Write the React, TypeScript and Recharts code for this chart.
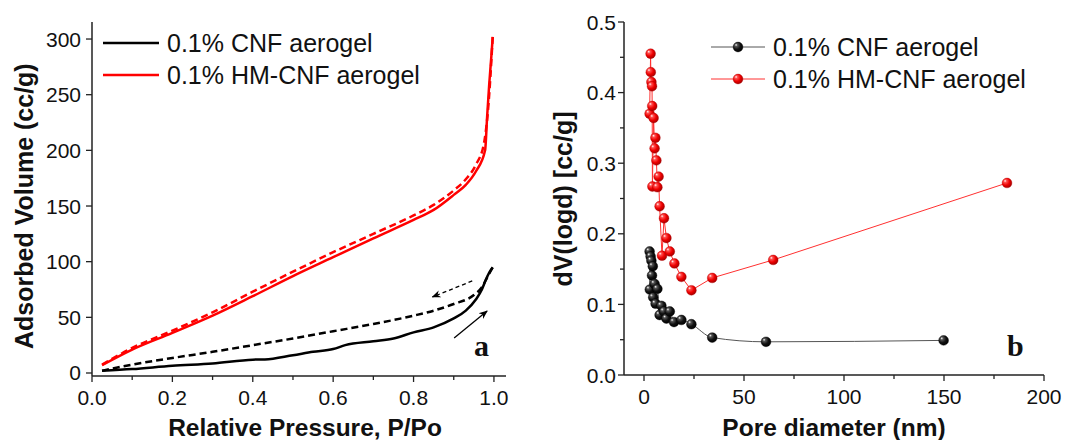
import React from "react";
import {
  LineChart,
  Line,
  XAxis,
  YAxis,
  Legend,
  ReferenceLine,
} from "recharts";

// panel a: N2 isotherms [P/Po, cc/g]
const cnfAdsorption = [
  [0.025, 2], [0.1, 3.5], [0.2, 6.5], [0.3, 8.5], [0.4, 12], [0.43, 12.2],
  [0.5, 16], [0.55, 19], [0.6, 21.5], [0.63, 25], [0.7, 28.5], [0.75, 31],
  [0.8, 36.5], [0.85, 41], [0.9, 49], [0.93, 56], [0.955, 66], [0.97, 75],
  [0.98, 84], [0.988, 90], [0.997, 95],
];
const cnfDesorption = [
  [0.025, 2], [0.1, 7.5], [0.2, 13.5], [0.3, 19], [0.4, 25], [0.5, 31],
  [0.6, 37.5], [0.7, 44], [0.8, 51.5], [0.85, 56], [0.9, 62], [0.95, 70],
  [0.97, 77], [0.985, 87], [0.997, 95],
];
const hmAdsorption = [
  [0.025, 7], [0.1, 21], [0.2, 36], [0.3, 51.5], [0.4, 69], [0.5, 87],
  [0.6, 104], [0.7, 121], [0.8, 137.5], [0.85, 146.5], [0.9, 160], [0.93, 169],
  [0.955, 181], [0.978, 200], [0.983, 230], [0.988, 258], [0.993, 282], [0.997, 302],
];
const hmDesorption = [
  [0.025, 7.5], [0.1, 22.5], [0.2, 38], [0.3, 54.5], [0.4, 73], [0.5, 91],
  [0.6, 108.5], [0.7, 125], [0.8, 141.5], [0.85, 151], [0.9, 164], [0.93, 174],
  [0.955, 187], [0.975, 206], [0.985, 235], [0.997, 302],
];

// panel b: pore size distribution [nm, cc/g]
const cnfPores = [
  [2.8, 0.175], [2.9, 0.121], [3.3, 0.168], [3.7, 0.162], [4.0, 0.141],
  [4.4, 0.154], [4.6, 0.11], [5.3, 0.129], [5.8, 0.101], [6.7, 0.122],
  [7.8, 0.085], [8.7, 0.098], [10.0, 0.09], [11.2, 0.08], [12.9, 0.09],
  [15.0, 0.075], [18.7, 0.078], [23.7, 0.072], [34.1, 0.053], [61.0, 0.047],
  [149.8, 0.049],
];
const hmPores = [
  [2.8, 0.37], [3.3, 0.455], [3.4, 0.429], [3.7, 0.415], [4.0, 0.409],
  [4.1, 0.381], [4.2, 0.267], [4.8, 0.364], [5.3, 0.321], [5.7, 0.336],
  [6.2, 0.304], [6.7, 0.266], [7.3, 0.281], [7.8, 0.239], [9.0, 0.169],
  [10.0, 0.222], [11.2, 0.194], [12.9, 0.175], [15.2, 0.158], [18.7, 0.139],
  [23.7, 0.12], [34.1, 0.1375], [64.6, 0.163], [181.5, 0.272],
];

const pressureTicks = [0, 0.1, 0.2, 0.3, 0.4, 0.5, 0.6, 0.7, 0.8, 0.9, 1.0];
const volumeTicks = [0, 50, 100, 150, 200, 250, 300];
const diameterTicks = [0, 25, 50, 75, 100, 125, 150, 175, 200];
const dvTicks = [0, 0.05, 0.1, 0.15, 0.2, 0.25, 0.3, 0.35, 0.4, 0.45, 0.5];

const toRows = (pts: number[][]) => pts.map(([x, y]) => ({ x, y }));

const FONT = "'Liberation Sans', Arial, sans-serif";
const AXIS = "#222";
const TICK_FONT = 21;
const LEGEND_FONT = 25;

const bottomTick = (isMajor: (v: number) => boolean, fmt: (v: number) => string) =>
  (p: any) => {
    const v = p.payload.value;
    const major = isMajor(v);
    return (
      <g>
        <line x1={p.x} x2={p.x} y1={p.y} y2={p.y + (major ? 6 : 4)} stroke={AXIS} strokeWidth={1.3} />
        {major && (
          <text x={p.x} y={p.y + 29} textAnchor="middle" fontSize={TICK_FONT} fontFamily={FONT} fill="#111">
            {fmt(v)}
          </text>
        )}
      </g>
    );
  };

const leftTick = (isMajor: (v: number) => boolean, fmt: (v: number) => string, gap: number) =>
  (p: any) => {
    const v = p.payload.value;
    const major = isMajor(v);
    return (
      <g>
        <line x1={p.x} x2={p.x - (major ? 6 : 4)} y1={p.y} y2={p.y} stroke={AXIS} strokeWidth={1.3} />
        {major && (
          <text x={p.x - gap} y={p.y + 7.5} textAnchor="end" fontSize={TICK_FONT} fontFamily={FONT} fill="#111">
            {fmt(v)}
          </text>
        )}
      </g>
    );
  };

const near = (v: number, step: number) => Math.abs(v / step - Math.round(v / step)) < 1e-6;

const Ball = ({ cx, cy, color }: { cx: number; cy: number; color: "red" | "black" }) => (
  <circle cx={cx} cy={cy} r={4.9} fill={`url(#ball-${color})`} stroke={color === "red" ? "#b00000" : "#000"} strokeWidth={0.4} />
);

const LegendA = () => (
  <svg width={360} height={70} style={{ overflow: "visible" }}>
    <line x1={3} x2={59} y1={21} y2={21} stroke="#000" strokeWidth={2.5} />
    <text x={67} y={30} fontSize={LEGEND_FONT} fontFamily={FONT} fill="#111">0.1% CNF aerogel</text>
    <line x1={3} x2={59} y1={53} y2={53} stroke="#ff0000" strokeWidth={2.5} />
    <text x={67} y={62} fontSize={LEGEND_FONT} fontFamily={FONT} fill="#111">0.1% HM-CNF aerogel</text>
  </svg>
);

const LegendB = () => (
  <svg width={360} height={70} style={{ overflow: "visible" }}>
    <line x1={0} x2={54} y1={25} y2={25} stroke="#555" strokeWidth={1} />
    <Ball cx={27} cy={25} color="black" />
    <text x={62} y={34} fontSize={LEGEND_FONT} fontFamily={FONT} fill="#111">0.1% CNF aerogel</text>
    <line x1={0} x2={54} y1={57} y2={57} stroke="#ff3030" strokeWidth={1} />
    <Ball cx={27} cy={57} color="red" />
    <text x={62} y={66} fontSize={LEGEND_FONT} fontFamily={FONT} fill="#111">0.1% HM-CNF aerogel</text>
  </svg>
);

const panelLetter = (left: number, ch: string) => (
  <div
    style={{
      position: "absolute",
      left,
      top: 328,
      fontFamily: "'Liberation Serif', 'Times New Roman', serif",
      fontWeight: "bold",
      fontSize: 30,
      lineHeight: "36px",
      color: "#111",
    }}
  >
    {ch}
  </div>
);

export default function App() {
  return (
    <div style={{ position: "absolute", left: 0, top: 0, width: 1086, height: 440, background: "#fff" }}>
      <svg width={0} height={0} style={{ position: "absolute" }}>
        <defs>
          <radialGradient id="ball-red" cx="40%" cy="38%" r="65%" fx="30%" fy="28%">
            <stop offset="0%" stopColor="#ffffff" />
            <stop offset="22%" stopColor="#ff5050" />
            <stop offset="60%" stopColor="#ee0000" />
            <stop offset="100%" stopColor="#a00000" />
          </radialGradient>
          <radialGradient id="ball-black" cx="40%" cy="38%" r="65%" fx="30%" fy="28%">
            <stop offset="0%" stopColor="#ffffff" />
            <stop offset="22%" stopColor="#555555" />
            <stop offset="60%" stopColor="#111111" />
            <stop offset="100%" stopColor="#000000" />
          </radialGradient>
          <marker id="arrow" viewBox="0 0 10 10" refX="9" refY="5" markerWidth="7" markerHeight="7" orient="auto">
            <path d="M0,1 L10,5 L0,9 L3,5 Z" fill="#000" />
          </marker>
        </defs>
      </svg>

      {/* panel a */}
      <div style={{ position: "absolute", left: 0, top: 0 }}>
        <LineChart width={540} height={440} margin={{ top: 22, right: 34, bottom: 0, left: 32 }}>
          <XAxis
            xAxisId="b"
            dataKey="x"
            type="number"
            domain={[0, 1.03]}
            ticks={pressureTicks}
            allowDataOverflow
            height={64}
            tickSize={0}
            tickMargin={0}
            tickLine={false}
            axisLine={{ stroke: AXIS, strokeWidth: 1.5 }}
            tick={bottomTick((v) => near(v, 0.2), (v) => v.toFixed(1))}
            interval={0}
            label={{
              value: "Relative Pressure, P/Po",
              position: "insideBottom",
              offset: 4,
              dx: 6,
              style: { fontFamily: FONT, fontSize: 24.5, fontWeight: "bold", fill: "#111" },
            }}
          />
          <XAxis xAxisId="t" orientation="top" type="number" domain={[0, 1.03]} height={0} tick={false} tickLine={false} axisLine={{ stroke: AXIS, strokeWidth: 1.5 }} />
          <YAxis
            yAxisId="l"
            type="number"
            domain={[-2.7, 315.3]}
            ticks={volumeTicks}
            allowDataOverflow
            width={60}
            tickSize={0}
            tickMargin={0}
            tickLine={false}
            interval={0}
            axisLine={{ stroke: AXIS, strokeWidth: 1.5 }}
            tick={leftTick(() => true, (v) => String(v), 11)}
            label={{
              value: "Adsorbed Volume (cc/g)",
              angle: -90,
              position: "insideLeft",
              offset: -8,
              dy: 150,
              style: { fontFamily: FONT, fontSize: 25, fontWeight: "bold", fill: "#111" },
            }}
          />
          <YAxis yAxisId="r" orientation="right" type="number" domain={[-2.7, 315.3]} width={0} tick={false} tickLine={false} axisLine={{ stroke: AXIS, strokeWidth: 1.5 }} />
          <Legend
            layout="vertical"
            align="center"
            verticalAlign="middle"
            wrapperStyle={{ left: 100, top: 22, width: 360, height: 70 }}
            content={() => <LegendA />}
          />
          <Line xAxisId="b" yAxisId="l" data={toRows(cnfDesorption)} dataKey="y" type="monotone" stroke="#000" strokeWidth={2.5} strokeDasharray="7 4" dot={false} isAnimationActive={false} />
          <Line xAxisId="b" yAxisId="l" data={toRows(cnfAdsorption)} dataKey="y" type="monotone" stroke="#000" strokeWidth={2.5} dot={false} isAnimationActive={false} />
          <Line xAxisId="b" yAxisId="l" data={toRows(hmDesorption)} dataKey="y" type="monotone" stroke="#ff0000" strokeWidth={2.5} strokeDasharray="7 4" dot={false} isAnimationActive={false} />
          <Line xAxisId="b" yAxisId="l" data={toRows(hmAdsorption)} dataKey="y" type="monotone" stroke="#ff0000" strokeWidth={2.5} dot={false} isAnimationActive={false} />
          <ReferenceLine
            xAxisId="b"
            yAxisId="l"
            segment={[{ x: 0.946, y: 82.7 }, { x: 0.847, y: 68.3 }]}
            stroke="#000"
            strokeWidth={1.3}
            strokeDasharray="4 3"
            markerEnd="url(#arrow)"
          />
          <ReferenceLine
            xAxisId="b"
            yAxisId="l"
            segment={[{ x: 0.901, y: 31.4 }, { x: 0.983, y: 55.7 }]}
            stroke="#000"
            strokeWidth={1.3}
            markerEnd="url(#arrow)"
          />
        </LineChart>
        {panelLetter(474, "a")}
      </div>

      {/* panel b */}
      <div style={{ position: "absolute", left: 540, top: 0 }}>
        <LineChart width={546} height={440} margin={{ top: 22, right: 42, bottom: 0, left: 26 }}>
          <XAxis
            xAxisId="b"
            dataKey="x"
            type="number"
            domain={[-10, 200]}
            ticks={diameterTicks}
            allowDataOverflow
            height={65}
            tickSize={0}
            tickMargin={0}
            tickLine={false}
            interval={0}
            axisLine={{ stroke: AXIS, strokeWidth: 1.5 }}
            tick={bottomTick((v) => near(v, 50), (v) => String(v))}
            label={{
              value: "Pore diameter (nm)",
              position: "insideBottom",
              offset: 4,
              dx: 0,
              style: { fontFamily: FONT, fontSize: 24.5, fontWeight: "bold", fill: "#111" },
            }}
          />
          <XAxis xAxisId="t" orientation="top" type="number" domain={[-10, 200]} height={0} tick={false} tickLine={false} axisLine={{ stroke: AXIS, strokeWidth: 1.5 }} />
          <YAxis
            yAxisId="l"
            type="number"
            domain={[0, 0.5]}
            ticks={dvTicks}
            allowDataOverflow
            width={58}
            tickSize={0}
            tickMargin={0}
            tickLine={false}
            interval={0}
            axisLine={{ stroke: AXIS, strokeWidth: 1.5 }}
            tick={leftTick((v) => near(v, 0.1), (v) => v.toFixed(1), 8)}
            label={{
              value: "dV(logd) [cc/g]",
              angle: -90,
              position: "insideLeft",
              offset: -3,
              dy: 88,
              style: { fontFamily: FONT, fontSize: 25, fontWeight: "bold", fill: "#111" },
            }}
          />
          <YAxis yAxisId="r" orientation="right" type="number" domain={[0, 0.5]} width={0} tick={false} tickLine={false} axisLine={{ stroke: AXIS, strokeWidth: 1.5 }} />
          <Legend
            layout="vertical"
            align="center"
            verticalAlign="middle"
            wrapperStyle={{ left: 171, top: 22, width: 360, height: 70 }}
            content={() => <LegendB />}
          />
          <Line
            xAxisId="b"
            yAxisId="l"
            data={toRows(cnfPores)}
            dataKey="y"
            type="monotone"
            stroke="#555"
            strokeWidth={1}
            dot={(p: any) => <Ball key={`c${p.index}`} cx={p.cx} cy={p.cy} color="black" />}
            isAnimationActive={false}
          />
          <Line
            xAxisId="b"
            yAxisId="l"
            data={toRows(hmPores)}
            dataKey="y"
            type="linear"
            stroke="#ff3030"
            strokeWidth={1}
            dot={(p: any) => <Ball key={`h${p.index}`} cx={p.cx} cy={p.cy} color="red" />}
            isAnimationActive={false}
          />
        </LineChart>
        {panelLetter(467, "b")}
      </div>
    </div>
  );
}
